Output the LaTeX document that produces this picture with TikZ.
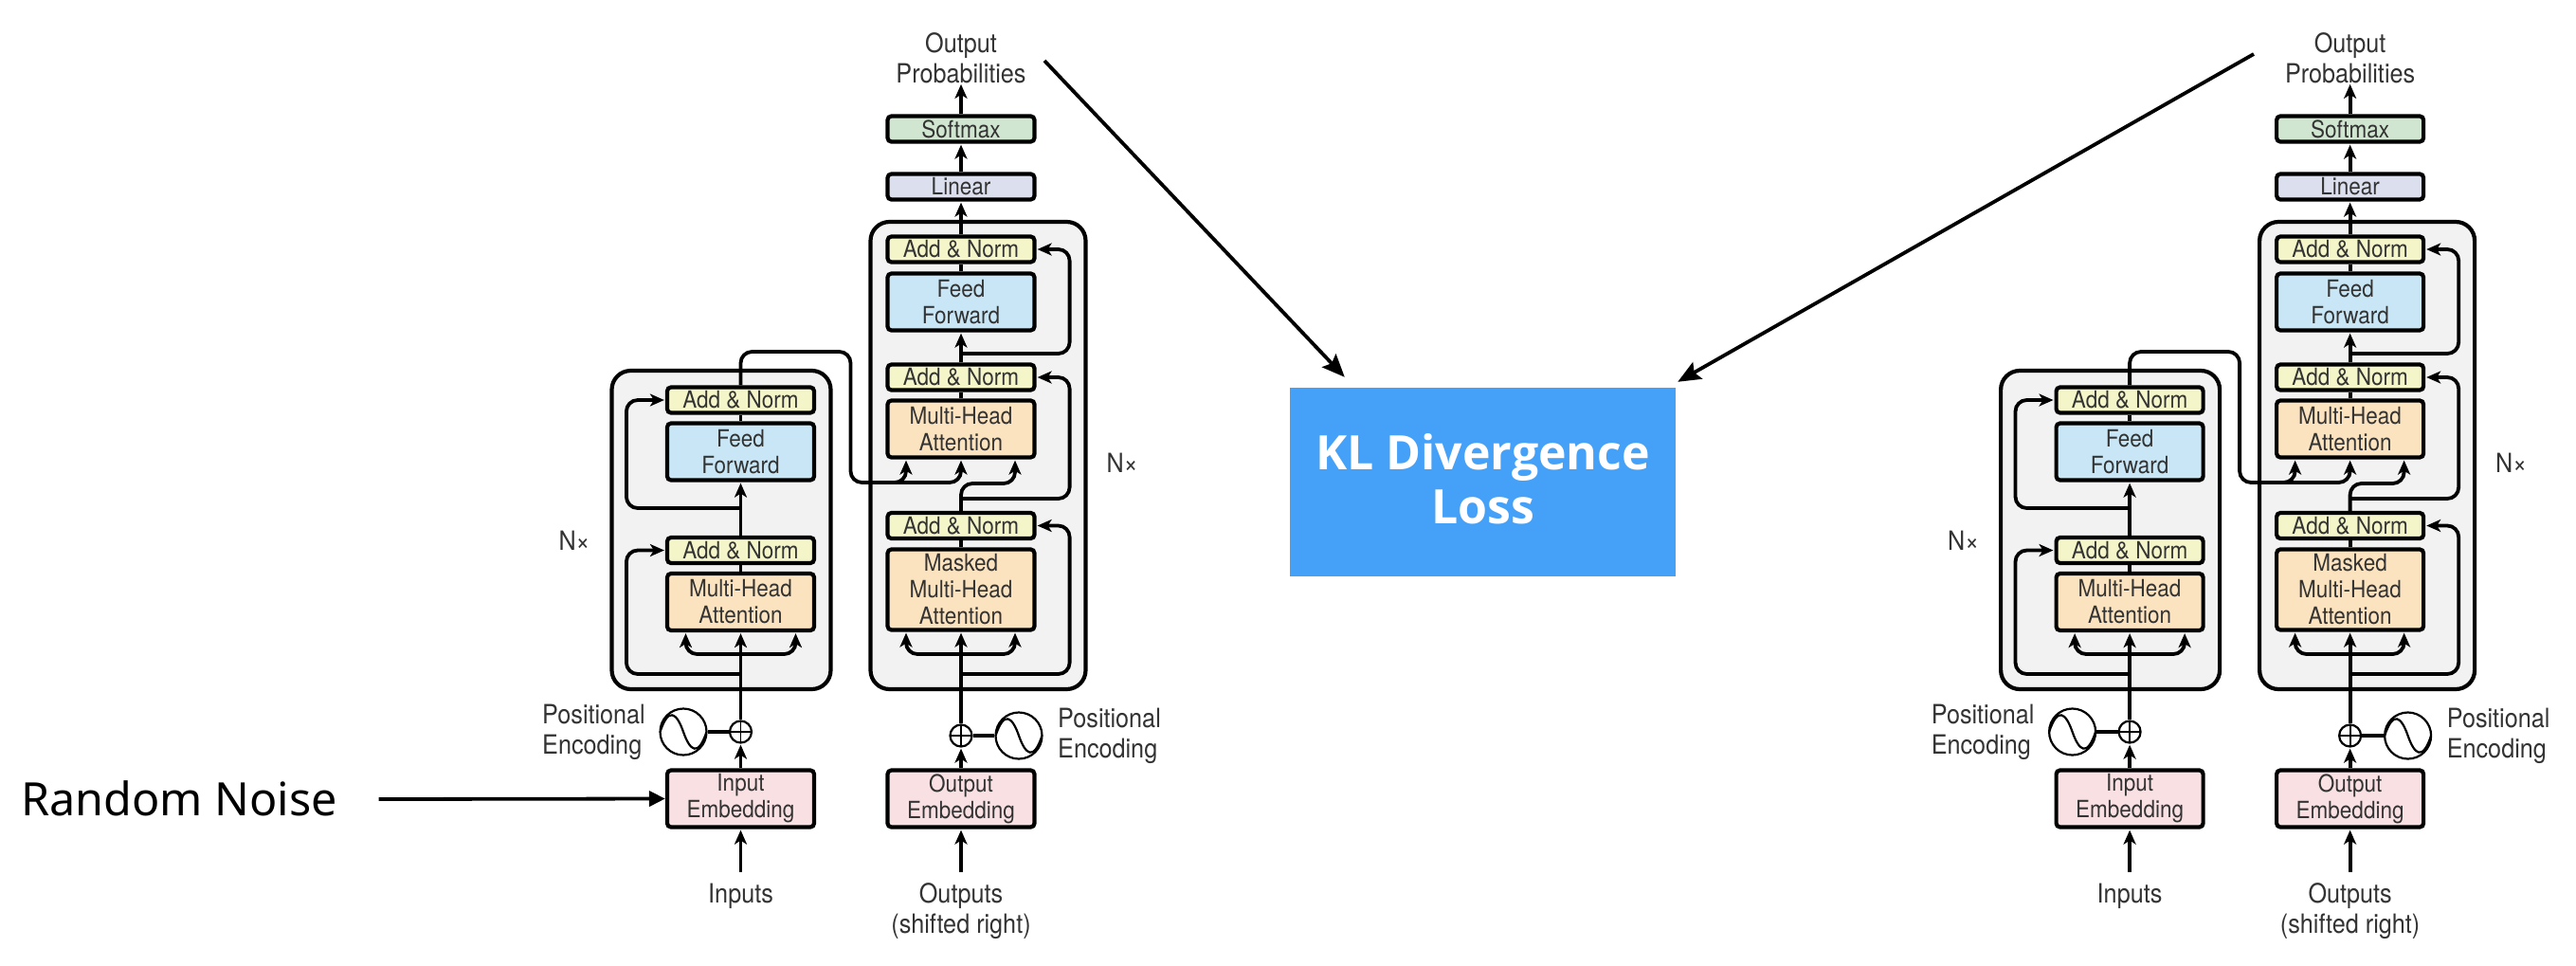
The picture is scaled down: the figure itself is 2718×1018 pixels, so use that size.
\documentclass[tikz,border=0pt]{standalone}
\usepackage{fontspec}
\setmainfont{TeX Gyre Heros}[FakeStretch=0.9]
\newfontfamily\noisefont{Noto Sans}
\newfontfamily\klfont{Open Sans}
\usetikzlibrary{arrows.meta, calc}
\definecolor{inkgray}{HTML}{333333}
\definecolor{softgreen}{HTML}{D0E6D0}
\definecolor{lineblue}{HTML}{DCDFEE}
\definecolor{normyellow}{HTML}{F4F5C8}
\definecolor{feedblue}{HTML}{C8E6F5}
\definecolor{attorange}{HTML}{FCE3BF}
\definecolor{embpink}{HTML}{F8E0E3}
\definecolor{stackgray}{HTML}{F2F2F2}
\definecolor{lossblue}{HTML}{45A1F8}
\tikzset{x=1pt, y=-1pt,
    every node/.style={text=inkgray, inner sep=0pt},
    layerbox/.style={draw=black, line width=4.2pt, rounded corners=4pt, minimum width=155pt, align=center,
        font=\fontsize{25}{28}\selectfont},
    stackbox/.style={draw=black, line width=4.2pt, rounded corners=20pt, fill=stackgray},
    tag/.style={align=center, font=\fontsize{28}{32}\selectfont},
    wire/.style={draw=black, line width=3.8pt},
    flow/.style={wire, -{Stealth[length=15pt, width=13pt, inset=4pt]}, shorten >=1pt},
    bendy/.style={flow, rounded corners=12pt},
    sumnode/.style={circle, draw=black, line width=2.2pt, minimum size=23pt,
        path picture={\draw[line width=1.8pt] (path picture bounding box.north) -- (path picture bounding box.south)
            (path picture bounding box.west) -- (path picture bounding box.east);}},
    sinenode/.style={circle, draw=black, line width=2.2pt, minimum size=49pt,
        path picture={\draw[line width=2.2pt] (path picture bounding box.west)
            .. controls +(9,-27) and +(-7,-20) .. (path picture bounding box.center)
            .. controls +(7,20) and +(-9,27) .. (path picture bounding box.east);}},
}

\newcommand{\drawmodel}[2]{
\begin{scope}[name prefix=#1-, xshift=#2]
    % stacks first, the wires run over them
    \node[stackbox, minimum width=231pt, minimum height=336pt] (encstack) at (761,559) {};
    \node[stackbox, minimum width=227pt, minimum height=493pt] (decstack) at (1032,480.5) {};

    % encoder
    \node[layerbox, fill=embpink, minimum height=60pt] (inemb) at (781.5,842.5) {Input\\Embedding};
    \node[layerbox, fill=attorange, minimum height=60pt] (emha) at (781.5,635) {Multi-Head\\Attention};
    \node[layerbox, fill=normyellow, minimum height=27pt] (eaddb) at (781.5,580.5) {Add \& Norm};
    \node[layerbox, fill=feedblue, minimum height=60pt] (eff) at (781.5,476.5) {Feed\\Forward};
    \node[layerbox, fill=normyellow, minimum height=27pt] (eaddt) at (781.5,422) {Add \& Norm};

    % decoder
    \node[layerbox, fill=embpink, minimum height=60pt] (outemb) at (1014,842.5) {Output\\Embedding};
    \node[layerbox, fill=attorange, minimum height=85pt] (dmask) at (1014,622) {Masked\\Multi-Head\\Attention};
    \node[layerbox, fill=normyellow, minimum height=27pt] (dadda) at (1014,554.5) {Add \& Norm};
    \node[layerbox, fill=attorange, minimum height=60pt] (dmha) at (1014,452.5) {Multi-Head\\Attention};
    \node[layerbox, fill=normyellow, minimum height=27pt] (daddb) at (1014,398) {Add \& Norm};
    \node[layerbox, fill=feedblue, minimum height=60pt] (dff) at (1014,318.5) {Feed\\Forward};
    \node[layerbox, fill=normyellow, minimum height=27pt] (daddc) at (1014,263) {Add \& Norm};
    \node[layerbox, fill=lineblue, minimum height=27pt] (linear) at (1014,197) {Linear};
    \node[layerbox, fill=softgreen, minimum height=27pt] (softmax) at (1014,136) {Softmax};

    % labels
    \node[tag] (outprob) at (1014,61) {Output\\Probabilities};
    \node[tag] (inputs) at (781.5,945) {Inputs};
    \node[tag] (outputs) at (1014,961) {Outputs\\(shifted right)};
    \node[tag, align=left, anchor=west] (eposlabel) at (572,772.5) {Positional\\Encoding};
    \node[tag, align=left, anchor=west] (dposlabel) at (1116,776.5) {Positional\\Encoding};
    \node[tag] (enx) at (606,570) {N×};
    \node[tag] (dnx) at (1184,488) {N×};

    % positional encoding
    \node[sumnode] (eplus) at (781.5,772) {};
    \node[sinenode] (esine) at (721,772) {};
    \node[sumnode] (dplus) at (1014,776) {};
    \node[sinenode] (dsine) at (1075,776) {};

    % branch points
    \coordinate (einA) at (781.5,920);
    \coordinate (dinA) at (1014,920);
    \coordinate (eresA) at (781.5,711);
    \coordinate (eattA) at (781.5,690);
    \coordinate (eresB) at (781.5,536);
    \coordinate (dresA) at (1014,711);
    \coordinate (dattA) at (1014,690);
    \coordinate (dresB) at (1014,526);
    \coordinate (dresC) at (1014,373);
    \coordinate (crossA) at (897.5,371);
    \coordinate (crossB) at (897.5,509);
    \coordinate (crossC) at (930,509);
    \coordinate (dturn) at (1040,510);

    % encoder wires
    \draw[flow] (einA) -- (inemb.south);
    \draw[flow] (inemb.north) -- (eplus.south);
    \draw[wire] (esine.east) -- (eplus.west);
    \draw[flow] (eplus.north) -- (emha.south);
    \draw[bendy] (eattA) -| ([xshift=-58pt]emha.south);
    \draw[bendy] (eattA) -| ([xshift=58pt]emha.south);
    \draw[wire] (emha.north) -- (eaddb.south);
    \draw[flow] (eaddb.north) -- (eff.south);
    \draw[wire] (eff.north) -- (eaddt.south);
    \draw[bendy] (eresA) -| ([xshift=-41pt]emha.west) |- (eaddb.west);
    \draw[bendy] (eresB) -| ([xshift=-41pt]eff.west) |- (eaddt.west);

    % decoder wires
    \draw[flow] (dinA) -- (outemb.south);
    \draw[flow] (outemb.north) -- (dplus.south);
    \draw[wire] (dsine.west) -- (dplus.east);
    \draw[flow] (dplus.north) -- (dmask.south);
    \draw[bendy] (dattA) -| ([xshift=-58pt]dmask.south);
    \draw[bendy] (dattA) -| ([xshift=57pt]dmask.south);
    \draw[wire] (dmask.north) -- (dadda.south);
    \draw[wire] (dmha.north) -- (daddb.south);
    \draw[flow] (daddb.north) -- (dff.south);
    \draw[wire] (dff.north) -- (daddc.south);
    \draw[flow] (daddc.north) -- (linear.south);
    \draw[flow] (linear.north) -- (softmax.south);
    \draw[flow] (softmax.north) -- (outprob.south);
    \draw[bendy] (dresA) -| ([xshift=35pt]dmask.east) |- (dadda.east);
    \draw[bendy] (dresB) -| ([xshift=35pt]dmha.east) |- (daddb.east);
    \draw[bendy] (dresC) -| ([xshift=35pt]dff.east) |- (daddc.east);

    % encoder into decoder
    \draw[bendy] (eaddt.north) |- (crossA) -- (crossB) -| ([xshift=-58pt]dmha.south);
    \draw[bendy] (crossC) -| (dmha.south);
    \draw[bendy] (dadda.north) |- (dturn) -| ([xshift=57pt]dmha.south);
\end{scope}
}

\begin{document}
\begin{tikzpicture}
    \useasboundingbox (0,0) rectangle (2718,1018);

    \drawmodel{left}{0pt}
    \drawmodel{right}{1465.6pt}

    \node[fill=lossblue, minimum width=407pt, minimum height=199pt, text=white] (kl) at (1564.5,508.5) {};
    \node[align=center, text=white, font=\klfont\bfseries\fontsize{50}{57}\selectfont] (klname) at (1564.5,505) {KL Divergence\\Loss};
    \node[anchor=west, text=black, font=\noisefont\fontsize{48.5}{56}\selectfont] (noise) at (22,842) {Random Noise};

    \coordinate (noisestart) at (399.5,843);
    \coordinate (klstartl) at (1102,64);
    \coordinate (klstartr) at (2378,57);

    \draw[wire, -{Stealth[length=17pt, width=16pt, inset=0pt]}] (noisestart) -- (left-inemb.west);
    \draw[wire, -{Stealth[length=24pt, width=20pt, inset=4pt]}] (klstartl) -- ([shift={(58,-11)}]kl.north west);
    \draw[wire, -{Stealth[length=24pt, width=20pt, inset=4pt]}] (klstartr) -- ([shift={(2,-6)}]kl.north east);
\end{tikzpicture}
\end{document}
